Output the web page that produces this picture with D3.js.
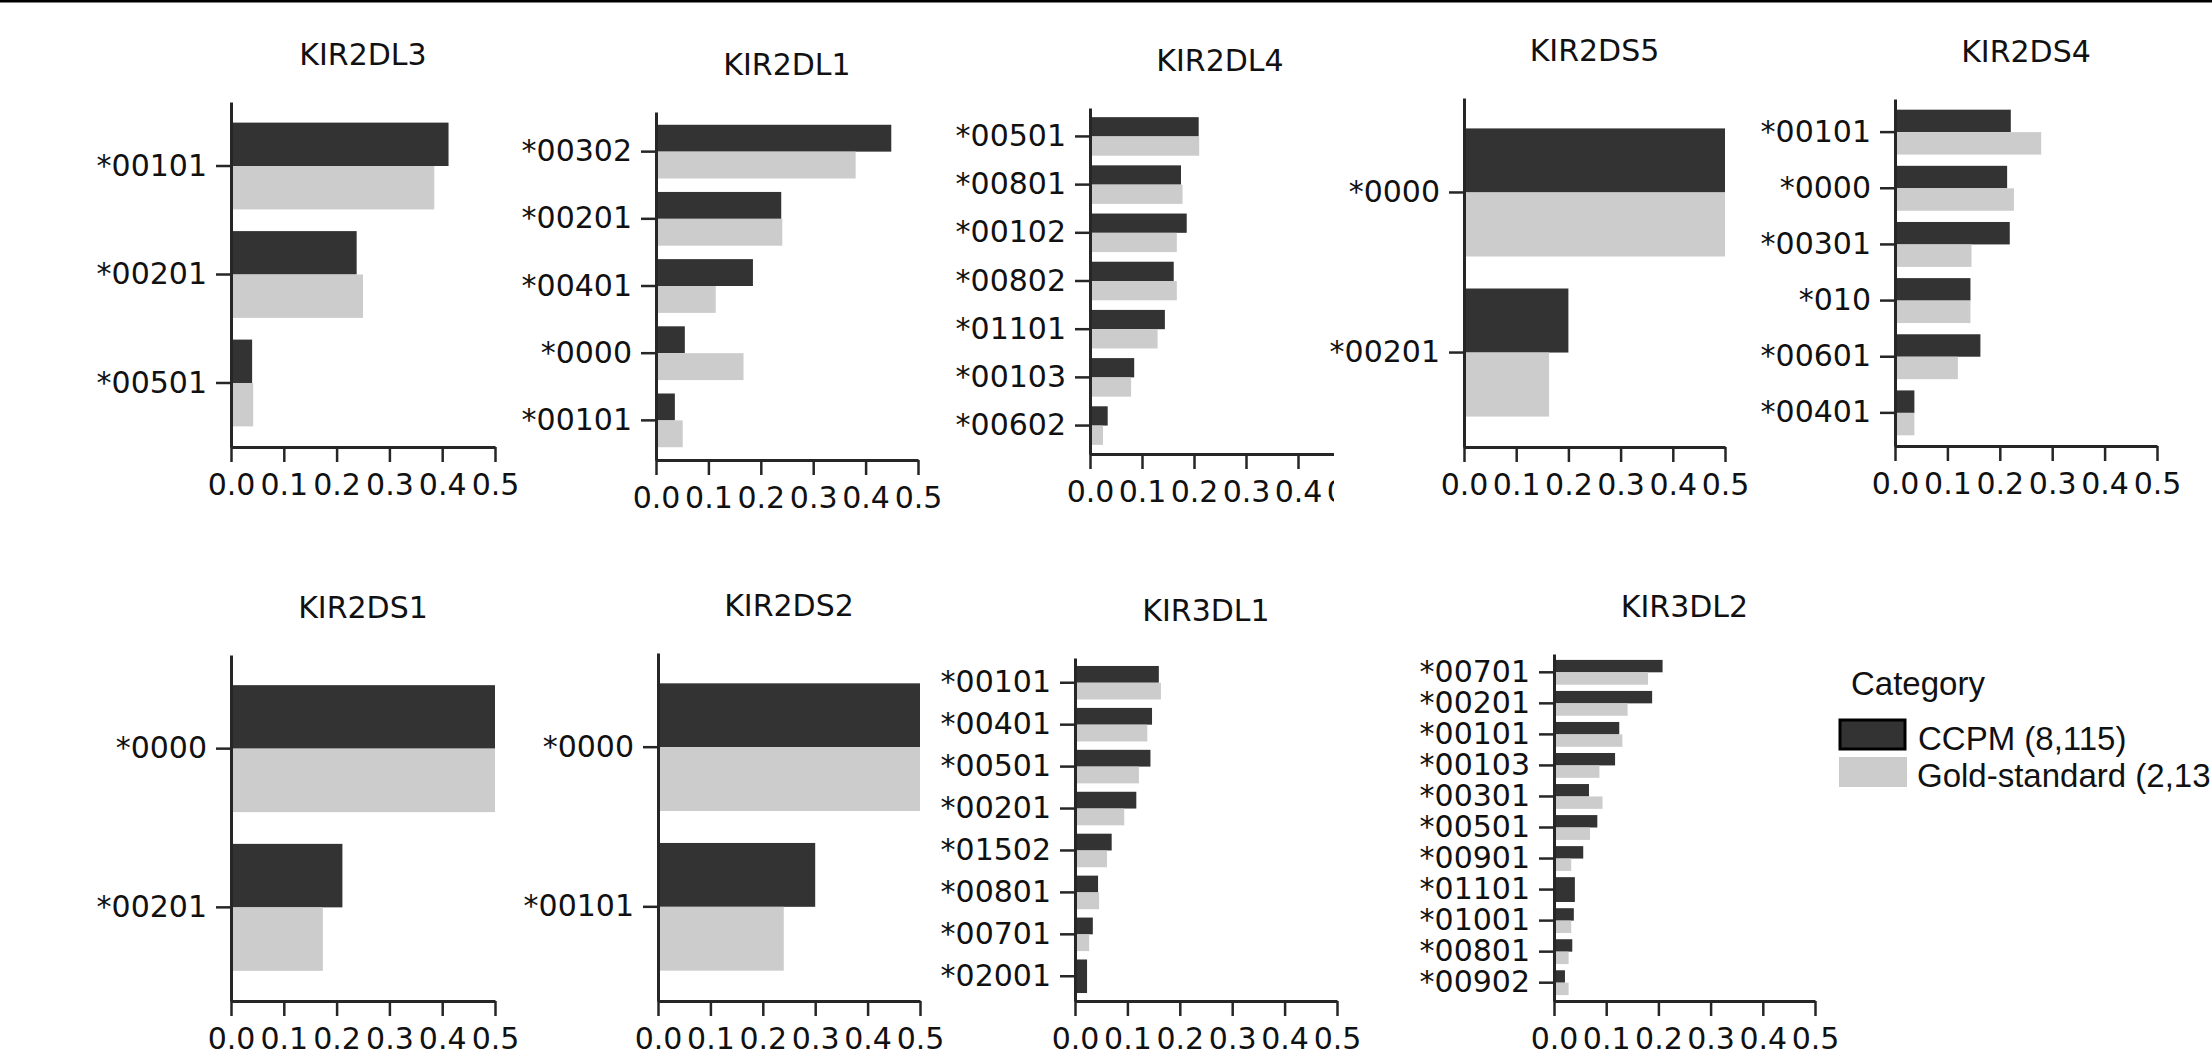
<!DOCTYPE html>
<html>
<head>
<meta charset="utf-8">
<script src="https://cdn.jsdelivr.net/npm/d3@7"></script>
<style>
  body { margin: 0; background: #fff; }
  svg { display: block; }
</style>
</head>
<body>
<svg id="chart"></svg>
<script>
// allele frequencies per gene (CCPM = dark, gold-standard = light)
const kir2dl3Alleles = ["*00101", "*00201", "*00501"];
const kir2dl3Ccpm = [0.412, 0.238, 0.04];
const kir2dl3Gold = [0.385, 0.25, 0.042];

const kir2dl1Alleles = ["*00302", "*00201", "*00401", "*0000", "*00101"];
const kir2dl1Ccpm = [0.449, 0.239, 0.185, 0.055, 0.036];
const kir2dl1Gold = [0.381, 0.241, 0.114, 0.167, 0.051];

const kir2dl4Alleles = ["*00501", "*00801", "*00102", "*00802", "*01101", "*00103", "*00602"];
const kir2dl4Ccpm = [0.209, 0.175, 0.186, 0.161, 0.144, 0.085, 0.034];
const kir2dl4Gold = [0.21, 0.178, 0.167, 0.167, 0.13, 0.079, 0.025];

const kir2ds5Alleles = ["*0000", "*00201"];
const kir2ds5Ccpm = [0.5, 0.2];
const kir2ds5Gold = [0.5, 0.163];

const kir2ds4Alleles = ["*00101", "*0000", "*00301", "*010", "*00601", "*00401"];
const kir2ds4Ccpm = [0.221, 0.214, 0.219, 0.144, 0.163, 0.037];
const kir2ds4Gold = [0.279, 0.227, 0.146, 0.144, 0.12, 0.037];

const kir2ds1Alleles = ["*0000", "*00201"];
const kir2ds1Ccpm = [0.5, 0.211];
const kir2ds1Gold = [0.5, 0.174];

const kir2ds2Alleles = ["*0000", "*00101"];
const kir2ds2Ccpm = [0.5, 0.3];
const kir2ds2Gold = [0.5, 0.24];

const kir3dl1Alleles = ["*00101", "*00401", "*00501", "*00201", "*01502", "*00801", "*00701", "*02001"];
const kir3dl1Ccpm = [0.16, 0.147, 0.144, 0.117, 0.07, 0.044, 0.034, 0.023];
const kir3dl1Gold = [0.164, 0.138, 0.122, 0.094, 0.061, 0.046, 0.027, null];

const kir3dl2Alleles = ["*00701", "*00201", "*00101", "*00103", "*00301", "*00501", "*00901", "*01101", "*01001", "*00801", "*00902"];
const kir3dl2Ccpm = [0.208, 0.188, 0.125, 0.117, 0.067, 0.083, 0.056, 0.04, 0.038, 0.035, 0.021];
const kir3dl2Gold = [0.18, 0.141, 0.131, 0.087, 0.093, 0.069, 0.033, null, 0.033, 0.028, 0.028];

const xTicks = [0, 0.1, 0.2, 0.3, 0.4, 0.5];
const legendTitle = "Category";
const seriesNames = ["CCPM (8,115)", "Gold-standard (2,13"];

// panel placement (each panel was a separate plot pasted into the figure)
const panels = [
  { name: "KIR2DL3", alleles: kir2dl3Alleles, ccpm: kir2dl3Ccpm, gold: kir2dl3Gold, left: 231, top: 102, bottom: 447, width: 264 },
  { name: "KIR2DL1", alleles: kir2dl1Alleles, ccpm: kir2dl1Ccpm, gold: kir2dl1Gold, left: 656, top: 112, bottom: 460, width: 262 },
  { name: "KIR2DL4", alleles: kir2dl4Alleles, ccpm: kir2dl4Ccpm, gold: kir2dl4Gold, left: 1090, top: 108, bottom: 454, width: 260, clipRight: 1334 },
  { name: "KIR2DS5", alleles: kir2ds5Alleles, ccpm: kir2ds5Ccpm, gold: kir2ds5Gold, left: 1464, top: 98, bottom: 447, width: 261 },
  { name: "KIR2DS4", alleles: kir2ds4Alleles, ccpm: kir2ds4Ccpm, gold: kir2ds4Gold, left: 1895, top: 99, bottom: 446, width: 262 },
  { name: "KIR2DS1", alleles: kir2ds1Alleles, ccpm: kir2ds1Ccpm, gold: kir2ds1Gold, left: 231, top: 655, bottom: 1001, width: 264 },
  { name: "KIR2DS2", alleles: kir2ds2Alleles, ccpm: kir2ds2Ccpm, gold: kir2ds2Gold, left: 658, top: 653, bottom: 1001, width: 262 },
  { name: "KIR3DL1", alleles: kir3dl1Alleles, ccpm: kir3dl1Ccpm, gold: kir3dl1Gold, left: 1075, top: 658, bottom: 1001, width: 262 },
  { name: "KIR3DL2", alleles: kir3dl2Alleles, ccpm: kir3dl2Ccpm, gold: kir3dl2Gold, left: 1554, top: 654, bottom: 1001, width: 261 }
];

const dark = "#333333";
const light = "#cccccc";
const ink = "#262626";
const font = "DejaVu Sans";

const svg = d3.select("#chart").attr("width", 2212).attr("height", 1057);

// thin black strip along the top edge of the figure
svg.append("rect").attr("x", 0).attr("y", 0).attr("width", 2212).attr("height", 2.5).attr("fill", "#000");

const defs = svg.append("defs");

panels.forEach(function (p, i) {
  var g = svg.append("g");
  if (p.clipRight) {
    defs.append("clipPath").attr("id", "clip" + i)
      .append("rect").attr("x", 0).attr("y", 0).attr("width", p.clipRight).attr("height", 540);
    g.attr("clip-path", "url(#clip" + i + ")");
  }

  var x = d3.scaleLinear().domain([0, 0.5]).range([p.left, p.left + p.width]);
  var y = d3.scaleBand().domain(p.alleles).range([p.top, p.bottom])
    .paddingInner(0.2).paddingOuter(0.19);
  var bw = y.bandwidth();

  var rows = p.alleles.map(function (a, j) {
    return { allele: a, ccpm: p.ccpm[j], gold: p.gold[j] };
  });

  // CCPM bars (full band when the gold-standard has no such allele)
  g.selectAll(".ccpm").data(rows).join("rect")
    .attr("class", "ccpm")
    .attr("x", x(0))
    .attr("y", function (d) { return y(d.allele); })
    .attr("width", function (d) { return x(d.ccpm) - x(0); })
    .attr("height", function (d) { return d.gold == null ? bw : bw / 2; })
    .attr("fill", dark);

  g.selectAll(".gold").data(rows.filter(function (d) { return d.gold != null; })).join("rect")
    .attr("class", "gold")
    .attr("x", x(0))
    .attr("y", function (d) { return y(d.allele) + bw / 2; })
    .attr("width", function (d) { return x(d.gold) - x(0); })
    .attr("height", bw / 2)
    .attr("fill", light);

  var xAxis = g.append("g")
    .attr("transform", "translate(0," + p.bottom + ")")
    .call(d3.axisBottom(x).tickValues(xTicks).tickFormat(d3.format(".1f"))
      .tickSize(15).tickPadding(12).tickSizeOuter(0));

  var yAxis = g.append("g")
    .attr("transform", "translate(" + p.left + ",0)")
    .call(d3.axisLeft(y).tickSize(15).tickPadding(9).tickSizeOuter(0));

  [xAxis, yAxis].forEach(function (ax) {
    ax.attr("font-family", font).attr("font-size", 30);
    ax.select(".domain").attr("stroke", ink).attr("stroke-width", 3);
    ax.selectAll(".tick line").attr("stroke", ink).attr("stroke-width", 2.5);
    ax.selectAll(".tick text").attr("fill", "#111");
  });

  g.append("text")
    .attr("x", x(0.25))
    .attr("y", p.top - 37)
    .attr("text-anchor", "middle")
    .attr("font-family", font)
    .attr("font-size", 30)
    .attr("fill", "#111")
    .text(p.name);
});

// legend
var legend = svg.append("g").attr("font-family", "Liberation Sans, Arial, sans-serif").attr("font-size", 33).attr("fill", "#111");
legend.append("text").attr("x", 1851).attr("y", 695).text(legendTitle);
legend.append("rect").attr("x", 1840).attr("y", 720).attr("width", 65).attr("height", 29)
  .attr("fill", dark).attr("stroke", "#000").attr("stroke-width", 3);
legend.append("rect").attr("x", 1839).attr("y", 757).attr("width", 68).attr("height", 30).attr("fill", light);
legend.append("text").attr("x", 1918).attr("y", 750).text(seriesNames[0]);
legend.append("text").attr("x", 1917).attr("y", 787).text(seriesNames[1]);
</script>
</body>
</html>
